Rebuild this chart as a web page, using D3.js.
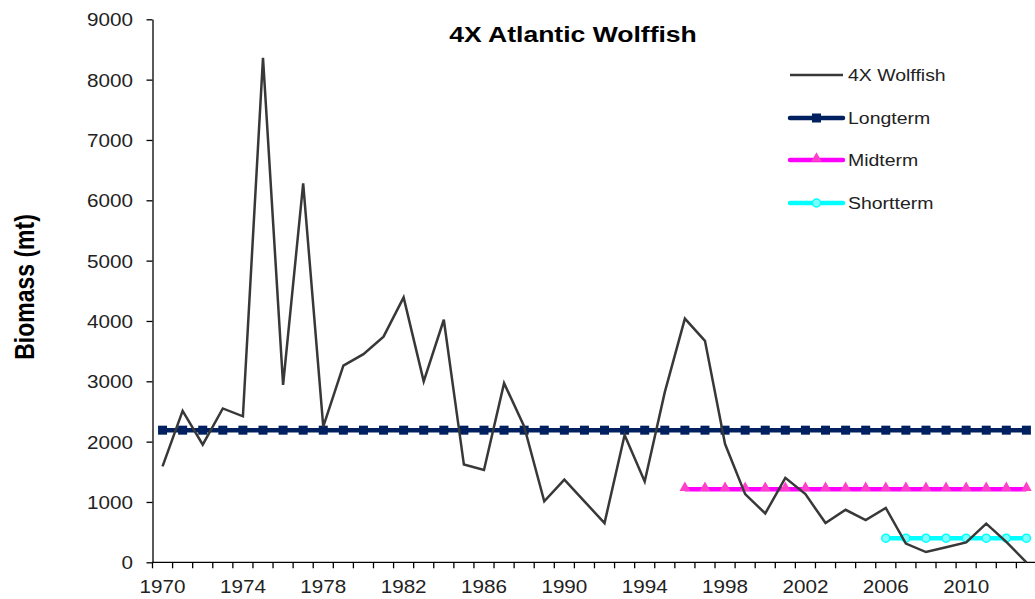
<!DOCTYPE html>
<html>
<head>
<meta charset="utf-8">
<script src="https://cdn.jsdelivr.net/npm/d3@7"></script>
<style>
html, body { margin: 0; padding: 0; background: #fff; overflow: hidden; }
svg { display: block; font-family: "Liberation Sans", Arial, sans-serif; }
</style>
</head>
<body>
<script>
// ---- data ----
const years = d3.range(1970, 2014);
const wolffish = [1590, 2510, 1950, 2550, 2420, 8360, 2940, 6280, 2250, 3260,
                  3450, 3740, 4390, 3000, 4020, 1620, 1530, 2970, 2250, 1010,
                  1370, 1010, 650, 2110, 1340, 2820, 4040, 3670, 1960, 1130,
                  810, 1400, 1130, 650, 870, 700, 900, 310, 170, 250,
                  330, 640, 340, 0];
const longtermYears = d3.range(1970, 2014);
const longtermValue = 2190;
const midtermYears = d3.range(1996, 2014);
const midtermValue = 1210;
const shorttermYears = d3.range(2006, 2014);
const shorttermValue = 400;
const yTicks = [0, 1000, 2000, 3000, 4000, 5000, 6000, 7000, 8000, 9000];
const xLabelYears = [1970, 1974, 1978, 1982, 1986, 1990, 1994, 1998, 2002, 2006, 2010];
const legendLabels = ["4X Wolffish", "Longterm", "Midterm", "Shortterm"];

// ---- layout ----
const W = 1035, H = 599;
const x0 = 152.5, bw = 20.09;
const SX = 1.18; // horizontal stretch of the reference's text
const svg = d3.select("body").append("svg").attr("width", W).attr("height", H);

function stext(parent, px, py, str, size, opts = {}) {
  return parent.append("text")
    .attr("transform", `translate(${px},${py}) scale(${SX},1)` + (opts.rotate ? ` rotate(${opts.rotate})` : ""))
    .attr("text-anchor", opts.anchor || "start")
    .attr("dy", opts.dy || null)
    .attr("font-size", size)
    .attr("font-weight", opts.weight || "normal")
    .attr("fill", opts.fill || "#222")
    .text(str);
}

const x = d3.scaleBand().domain(years).range([x0, x0 + bw * years.length]).padding(0);
const xc = d => x(d) + x.bandwidth() / 2;
const y = d3.scaleLinear().domain([0, 9000]).range([562.3, 19.3]);

// y axis
const yAxis = d3.axisLeft(y).tickValues(yTicks).tickSize(6).tickFormat("").tickSizeOuter(0);
const gy = svg.append("g").attr("transform", `translate(${x0},0)`).call(yAxis);
gy.select(".domain").attr("stroke", "#000").attr("stroke-width", 1.3);
gy.selectAll(".tick line").attr("stroke", "#000").attr("stroke-width", 1.3);
yTicks.forEach(v => stext(svg, 133, y(v) + 1, d3.format("d")(v), 17.5, { anchor: "end", dy: "0.35em" }));

// x axis
const gx = svg.append("g");
gx.append("line").attr("x1", x0).attr("x2", x0 + bw * years.length)
  .attr("y1", y(0)).attr("y2", y(0)).attr("stroke", "#000").attr("stroke-width", 1.3);
gx.selectAll("line.tk").data(years).enter().append("line").attr("class", "tk")
  .attr("x1", d => x(d)).attr("x2", d => x(d))
  .attr("y1", y(0)).attr("y2", y(0) + 6).attr("stroke", "#000").attr("stroke-width", 1.3);
xLabelYears.forEach(v => stext(gx, xc(v), 593, String(v), 17.5, { anchor: "middle" }));

// y axis title
stext(svg, 33.5, 287, "Biomass (mt)", 23, { anchor: "middle", weight: "bold", fill: "#000", rotate: -90 });

// title
stext(svg, 573, 41.5, "4X Atlantic Wolffish", 22.5, { anchor: "middle", weight: "bold", fill: "#000" });

// ---- series ----
const line = d3.line().x(d => xc(d[0])).y(d => y(d[1]));

// longterm
const lt = longtermYears.map(d => [d, longtermValue]);
svg.append("path").datum(lt).attr("d", line).attr("fill", "none")
  .attr("stroke", "#002060").attr("stroke-width", 4.5);
svg.selectAll("rect.lt").data(lt).enter().append("rect").attr("class", "lt")
  .attr("x", d => xc(d[0]) - 4.5).attr("y", d => y(d[1]) - 4.5)
  .attr("width", 9).attr("height", 9).attr("fill", "#002060");

// midterm
const mt = midtermYears.map(d => [d, midtermValue]);
svg.append("path").datum(mt).attr("d", line).attr("fill", "none")
  .attr("stroke", "#FF00FF").attr("stroke-width", 4.5);
const tri = d3.symbol().type(d3.symbolTriangle).size(50);
svg.selectAll("path.mt").data(mt).enter().append("path").attr("class", "mt")
  .attr("d", tri).attr("transform", d => `translate(${xc(d[0])},${y(d[1]) - 1.5})`)
  .attr("fill", "#FF40C8");

// shortterm
const st = shorttermYears.map(d => [d, shorttermValue]);
svg.append("path").datum(st).attr("d", line).attr("fill", "none")
  .attr("stroke", "#00FFFF").attr("stroke-width", 4.5);
svg.selectAll("circle.st").data(st).enter().append("circle").attr("class", "st")
  .attr("cx", d => xc(d[0])).attr("cy", d => y(d[1])).attr("r", 4)
  .attr("fill", "#80FFFF").attr("stroke", "#00FFFF").attr("stroke-width", 1.5);

// wolffish
const wf = years.map((d, i) => [d, wolffish[i]]);
svg.append("path").datum(wf).attr("d", line).attr("fill", "none")
  .attr("stroke", "#383838").attr("stroke-width", 2.5).attr("stroke-linejoin", "miter");

// ---- legend ----
const lg = svg.append("g");
const rows = [75, 118, 160, 203];
const lx1 = 790, lx2 = 843, mx = (lx1 + lx2) / 2;
lg.append("line").attr("x1", lx1).attr("x2", lx2).attr("y1", rows[0]).attr("y2", rows[0])
  .attr("stroke", "#383838").attr("stroke-width", 2.5);
lg.append("line").attr("x1", lx1).attr("x2", lx2).attr("y1", rows[1]).attr("y2", rows[1])
  .attr("stroke", "#002060").attr("stroke-width", 4.5).attr("stroke-linecap", "round");
lg.append("rect").attr("x", mx - 4.5).attr("y", rows[1] - 4.5).attr("width", 9).attr("height", 9).attr("fill", "#002060");
lg.append("line").attr("x1", lx1).attr("x2", lx2).attr("y1", rows[2]).attr("y2", rows[2])
  .attr("stroke", "#FF00FF").attr("stroke-width", 4.5).attr("stroke-linecap", "round");
lg.append("path").attr("d", tri).attr("transform", `translate(${mx},${rows[2] - 1.5})`).attr("fill", "#FF40C8");
lg.append("line").attr("x1", lx1).attr("x2", lx2).attr("y1", rows[3]).attr("y2", rows[3])
  .attr("stroke", "#00FFFF").attr("stroke-width", 4.5).attr("stroke-linecap", "round");
lg.append("circle").attr("cx", mx).attr("cy", rows[3]).attr("r", 4)
  .attr("fill", "#80FFFF").attr("stroke", "#00FFFF").attr("stroke-width", 1.5);
legendLabels.forEach((d, i) => stext(lg, 848, rows[i], d, 16.5, { dy: "0.35em" }));
</script>
</body>
</html>
